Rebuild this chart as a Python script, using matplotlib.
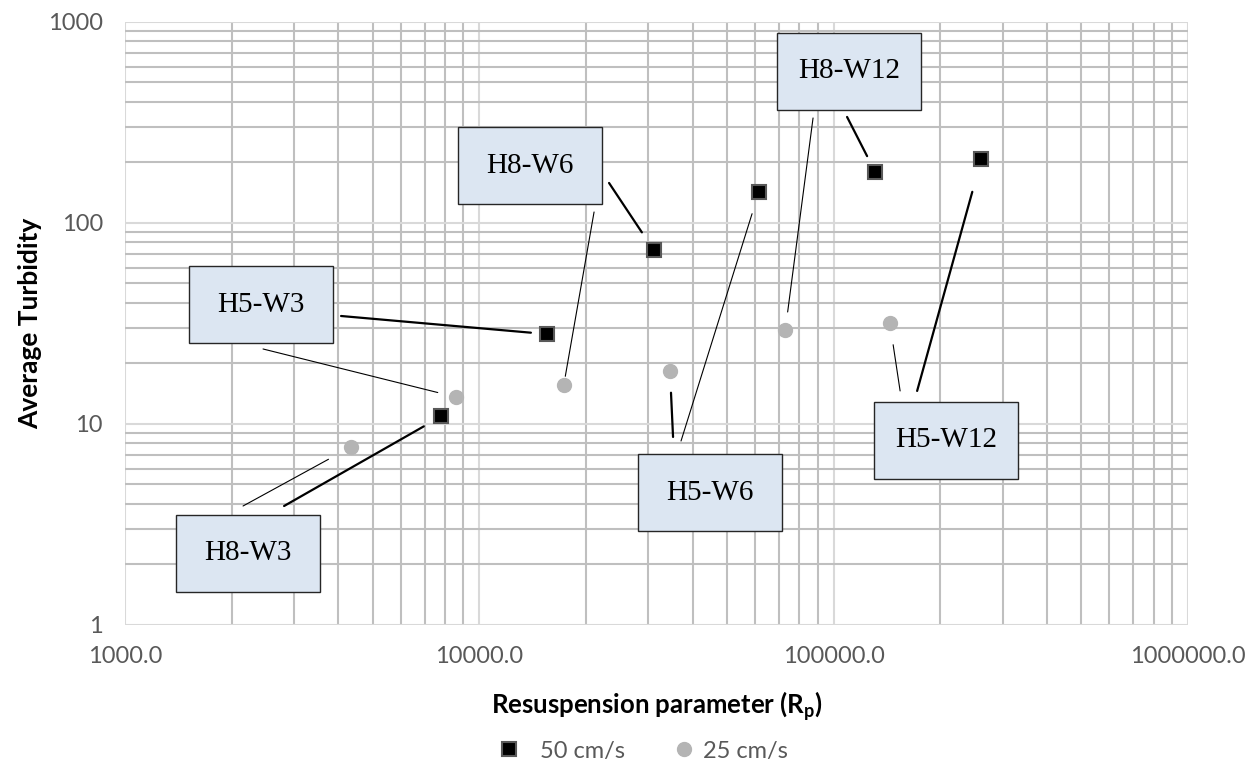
import matplotlib
matplotlib.use("Agg")
import matplotlib.pyplot as plt
from matplotlib.patches import Rectangle
from matplotlib.ticker import FixedLocator, FuncFormatter, LogLocator, NullFormatter
from matplotlib.lines import Line2D

# ------------------------------------------
# data
# ------------------------------------------
run_names = ["H8-W3", "H5-W3", "H8-W6", "H5-W6", "H8-W12", "H5-W12"]

rp_50 = [7800, 15500, 31000, 61500, 131000, 261000]
turb_50 = [10.9, 28.0, 73.5, 143, 179, 208]

rp_25 = [4350, 8600, 17300, 34500, 73000, 144000]
turb_25 = [7.7, 13.6, 15.6, 18.4, 29.4, 31.8]

x_ticks = [1e3, 1e4, 1e5, 1e6]
y_ticks = [1, 10, 100, 1000]

# ------------------------------------------
# callout layout (axes fraction)
# box centre, start of leader to square, start of leader to circle,
# gap left at the marker (px), line width to square / to circle
# ------------------------------------------
box_centre = [(0.1155, 0.1186), (0.1279, 0.5307), (0.3810, 0.7612),
              (0.5499, 0.2189), (0.6811, 0.9179), (0.7723, 0.3060)]
lead_sq = [(0.1496, 0.1973), (0.2032, 0.5124), (0.4553, 0.7330),
           (0.5230, 0.3051), (0.6792, 0.8425), (0.7451, 0.3881)]
lead_ci = [(0.1110, 0.1973), (0.1298, 0.4577), (0.4412, 0.6849),
           (0.5155, 0.3118), (0.6472, 0.8408), (0.7291, 0.3881)]
gap_sq = [20, 16, 21, 23, 18, 34]
gap_ci = [26, 19, 9, 22, 18, 22]
lw_sq = [1.6, 1.6, 1.6, 0.8, 1.6, 1.6]
lw_ci = [0.8, 0.8, 0.8, 1.6, 0.8, 0.8]

BOX_W = 144 / 1063
BOX_H = 77 / 603

TICK_COLOR = "#595959"

fig = plt.figure(figsize=(12.53, 7.63), dpi=100)
ax = fig.add_axes([0.0998, 0.1809, 0.8484, 0.7903])

ax.set_xscale("log")
ax.set_yscale("log")
ax.set_xlim(1e3, 1e6)
ax.set_ylim(1, 1e3)

# grid: light majors, slightly darker minors
ax.xaxis.set_major_locator(FixedLocator(x_ticks))
ax.yaxis.set_major_locator(FixedLocator(y_ticks))
ax.xaxis.set_minor_locator(LogLocator(base=10, subs=range(2, 10)))
ax.yaxis.set_minor_locator(LogLocator(base=10, subs=range(2, 10)))
ax.xaxis.set_minor_formatter(NullFormatter())
ax.yaxis.set_minor_formatter(NullFormatter())
ax.grid(which="major", color="#d9d9d9", linewidth=1.5)
ax.grid(which="minor", color="#bfbfbf", linewidth=1.5)
ax.set_axisbelow(True)
for sp in ax.spines.values():
    sp.set_visible(False)

ax.xaxis.set_major_formatter(FuncFormatter(lambda v, p: f"{v:.1f}"))
ax.yaxis.set_major_formatter(FuncFormatter(lambda v, p: f"{v:.0f}"))
ax.tick_params(which="both", length=0)
ax.tick_params(axis="x", pad=15, labelsize=17, labelcolor=TICK_COLOR)
ax.tick_params(axis="y", pad=16, labelsize=17, labelcolor=TICK_COLOR)
for lab in ax.get_xticklabels() + ax.get_yticklabels():
    lab.set_fontfamily("Lato")

ax.set_xlabel("Resuspension parameter (R$_\\mathregular{p}$)", fontsize=18.5,
              fontweight="bold", fontfamily="Lato", labelpad=16)
ax.set_ylabel("Average Turbidity", fontsize=19, fontweight="bold",
              fontfamily="Lato", labelpad=4)

ax.plot(rp_50, turb_50, ls="none", marker="s", ms=9.5, mfc="black",
        mec="#595959", mew=1.5, zorder=4)
ax.plot(rp_25, turb_25, ls="none", marker="o", ms=10, mfc="#b4b4b4",
        mec="#b4b4b4", zorder=4)

# callout boxes and leader lines
for i, name in enumerate(run_names):
    cx, cy = box_centre[i]
    ax.add_patch(Rectangle((cx - BOX_W / 2, cy - BOX_H / 2), BOX_W, BOX_H,
                           transform=ax.transAxes, facecolor="#dce6f2",
                           edgecolor="#262626", linewidth=1.0, zorder=5))
    ax.text(cx, cy, name, transform=ax.transAxes, ha="center", va="center",
            fontsize=21, fontfamily="Liberation Serif", color="black", zorder=6)

    ax.annotate("", xy=(rp_50[i], turb_50[i]), xycoords="data",
                xytext=lead_sq[i], textcoords="axes fraction",
                arrowprops=dict(arrowstyle="-", color="black", lw=lw_sq[i],
                                shrinkA=0, shrinkB=gap_sq[i] * 0.72), zorder=5)
    ax.annotate("", xy=(rp_25[i], turb_25[i]), xycoords="data",
                xytext=lead_ci[i], textcoords="axes fraction",
                arrowprops=dict(arrowstyle="-", color="black", lw=lw_ci[i],
                                shrinkA=0, shrinkB=gap_ci[i] * 0.72), zorder=5)

handles = [
    Line2D([], [], ls="none", marker="s", ms=9.5, mfc="black", mec="#595959", mew=1.5),
    Line2D([], [], ls="none", marker="o", ms=10, mfc="#b4b4b4", mec="#b4b4b4"),
]
leg = fig.legend(handles, ["  50 cm/s", "25 cm/s"], loc="lower center",
                 bbox_to_anchor=(0.513, -0.026), ncol=2, frameon=False,
                 handlelength=1.0, handletextpad=0.3, columnspacing=2.0,
                 prop={"family": "Lato", "size": 17})
for t in leg.get_texts():
    t.set_color(TICK_COLOR)

fig.savefig("out.png", dpi=100)
